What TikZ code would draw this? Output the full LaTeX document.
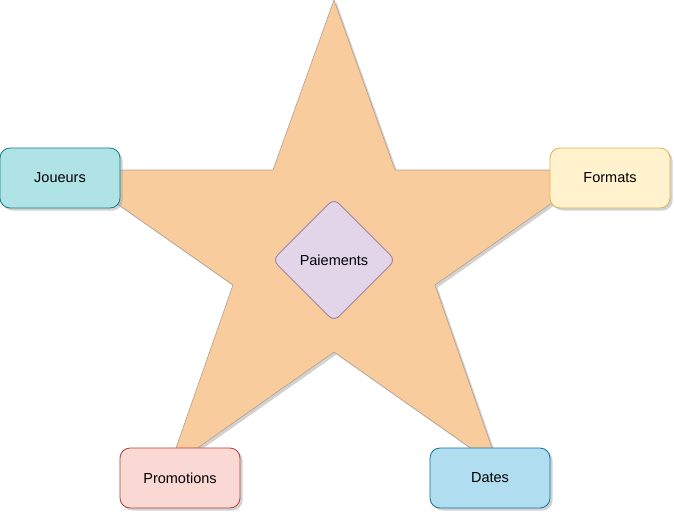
\documentclass[tikz,border=0pt]{standalone}
\usepackage{fontspec}
\setmainfont{Liberation Sans}
\usetikzlibrary{shapes.geometric,shadows}
\definecolor{starfill}{RGB}{249,204,157}
\definecolor{starline}{RGB}{178,160,140}
\definecolor{jfill}{RGB}{176,227,230}
\definecolor{jline}{RGB}{14,128,136}
\definecolor{ffill}{RGB}{255,242,204}
\definecolor{fline}{RGB}{214,182,86}
\definecolor{pfill}{RGB}{250,217,213}
\definecolor{pline}{RGB}{174,65,50}
\definecolor{dfill}{RGB}{177,221,240}
\definecolor{dline}{RGB}{16,115,158}
\definecolor{mfill}{RGB}{225,213,231}
\definecolor{mline}{RGB}{150,115,166}
\tikzset{
  shad/.style={drop shadow={shadow xshift=2.5pt,shadow yshift=-2.5pt,fill=black!35}},
  box/.style={rectangle,rounded corners=10pt,minimum width=120pt,minimum height=60pt,line width=0.8pt,shad,font=\fontsize{14.5}{17}\selectfont}
}
\begin{document}
\begin{tikzpicture}[x=1pt,y=-1pt]
  \useasboundingbox (0,0) rectangle (674,514);
  % star
  \draw[fill=starfill,draw=starline,line width=0.6pt,shad]
    (334,0) -- (395,170) -- (599,170) -- (435,285) -- (499,468) -- (334,352)
    -- (169,468) -- (233,285) -- (69,170) -- (273,170) -- cycle;
  \node[box,fill=jfill,draw=jline] (joueurs) at (60,178) {Joueurs};
  \node[box,fill=ffill,draw=fline] (formats) at (610,178) {Formats};
  \node[box,fill=pfill,draw=pline] (promotions) at (180,478) {Promotions};
  \node[box,fill=dfill,draw=dline] (dates) at (490,478) {Dates};
  \node[diamond,fill=mfill,draw=mline,line width=0.8pt,rounded corners=7pt,minimum width=123pt,minimum height=123pt,inner sep=0pt,font=\fontsize{14.5}{17}\selectfont] (paiements) at (334,260) {Paiements};
\end{tikzpicture}
\end{document}
